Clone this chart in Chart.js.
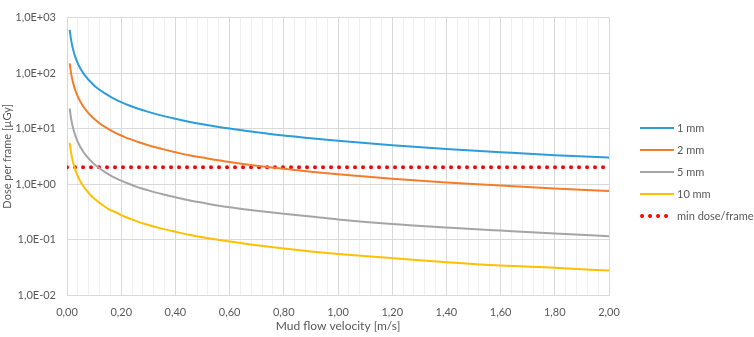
<!DOCTYPE html>
<html>
<head>
<meta charset="utf-8">
<script src="https://cdn.jsdelivr.net/npm/chart.js@4.4.0/dist/chart.umd.min.js"></script>
<style>
  body { margin: 0; background: #fff; }
  #wrap { width: 754px; height: 337px; position: relative; }
</style>
</head>
<body>
<div id="wrap"><canvas id="myChart" width="754" height="337"></canvas></div>
<script>
// values
var velocity = [0.01, 0.015, 0.02, 0.025, 0.03, 0.035, 0.04, 0.045, 0.05, 0.06, 0.07, 0.08, 0.09, 0.10, 0.12, 0.14, 0.16, 0.18, 0.20, 0.23, 0.26, 0.30, 0.35, 0.40, 0.45, 0.50, 0.60, 0.70, 0.80, 0.90, 1.00, 1.20, 1.40, 1.60, 1.80, 2.00];
var dose1mm = [600, 400, 300, 240, 200, 171, 150, 133, 120, 100, 86, 75, 67, 60, 50, 43, 37.5, 33.3, 30, 26, 23, 20, 17.1, 15, 13.3, 12, 10, 8.6, 7.5, 6.7, 6.0, 5.0, 4.3, 3.75, 3.3, 3.0];
var dose2mm = [150, 100, 75, 60, 50, 43, 37.5, 33.3, 30, 25, 21.4, 18.8, 16.7, 15, 12.5, 10.7, 9.4, 8.3, 7.5, 6.5, 5.8, 5, 4.3, 3.75, 3.3, 3, 2.5, 2.14, 1.88, 1.67, 1.5, 1.25, 1.07, 0.94, 0.83, 0.75];
var dose5mm = [23, 15.3, 11.5, 9.2, 7.7, 6.6, 5.75, 5.1, 4.6, 3.83, 3.29, 2.88, 2.56, 2.3, 1.92, 1.64, 1.44, 1.28, 1.15, 1.0, 0.88, 0.77, 0.66, 0.58, 0.51, 0.46, 0.38, 0.33, 0.29, 0.26, 0.23, 0.19, 0.165, 0.145, 0.128, 0.115];
var dose10mm = [5.5, 3.67, 2.75, 2.2, 1.83, 1.57, 1.38, 1.22, 1.1, 0.92, 0.79, 0.69, 0.61, 0.55, 0.46, 0.39, 0.34, 0.31, 0.275, 0.24, 0.21, 0.183, 0.157, 0.138, 0.122, 0.11, 0.092, 0.079, 0.069, 0.061, 0.055, 0.046, 0.039, 0.034, 0.031, 0.0275];
var minDoseX = [0, 2.0];
var minDose = [2.0, 2.0];
var yTicks = [0.01, 0.1, 1, 10, 100, 1000];
var seriesNames = ["1 mm", "2 mm", "5 mm", "10 mm", "min dose/frame"];

function pts(xs, ys) {
  var out = [];
  for (var i = 0; i < xs.length; i++) out.push({ x: xs[i], y: ys[i] });
  return out;
}

function curve(label, d, color) {
  return {
    label: label,
    data: pts(velocity, d),
    borderColor: color,
    backgroundColor: color,
    borderWidth: 2,
    pointRadius: 0,
    cubicInterpolationMode: 'monotone',
    fill: false
  };
}

var legendPlugin = {
  id: 'sideLegend',
  afterDraw: function (chart) {
    var ctx = chart.ctx;
    var rows = [128, 150, 172, 194, 216];
    chart.data.datasets.forEach(function (ds, i) {
      var y = rows[i];
      ctx.save();
      ctx.strokeStyle = ds.borderColor;
      ctx.lineWidth = ds.borderWidth;
      ctx.lineCap = ds.borderCapStyle || 'butt';
      ctx.setLineDash(ds.borderDash || []);
      ctx.beginPath();
      if (ds.borderDash) {
        ctx.moveTo(642, y);
        ctx.lineTo(674, y);
      } else {
        ctx.moveTo(640, y);
        ctx.lineTo(674, y);
      }
      ctx.stroke();
      ctx.setLineDash([]);
      ctx.fillStyle = '#595959';
      ctx.font = '11px Lato, "Open Sans", sans-serif';
      ctx.textBaseline = 'middle';
      ctx.fillText(ds.label, 677, y);
      ctx.restore();
    });
  }
};

var ctx = document.getElementById('myChart').getContext('2d');

var chartData = {
  datasets: [
    curve(seriesNames[0], dose1mm, '#2D9CDB'),
    curve(seriesNames[1], dose2mm, '#F47D2C'),
    curve(seriesNames[2], dose5mm, '#A5A5A5'),
    curve(seriesNames[3], dose10mm, '#FFC000'),
    {
      label: seriesNames[4],
      data: pts(minDoseX, minDose),
      borderColor: '#FF0000',
      backgroundColor: '#FF0000',
      borderWidth: 4,
      borderDash: [0, 8],
      borderCapStyle: 'round',
      pointRadius: 0,
      fill: false
    }
  ]
};

var chartOptions = {
  responsive: false,
  animation: false,
  layout: { padding: { left: 0, right: 145, top: 5, bottom: 0 } },
  plugins: {
    legend: { display: false },
    tooltip: { enabled: false }
  },
  scales: {
    x: {
      type: 'linear',
      min: 0,
      max: 2,
      afterFit: function (s) { s.height = 42; },
      ticks: {
        stepSize: 0.04,
        autoSkip: false,
        maxRotation: 0,
        padding: 11,
        color: '#595959',
        font: { family: 'Lato, "Open Sans", sans-serif', size: 11 },
        callback: function (v) {
          if (Math.round(v * 100) % 20 !== 0) return '';
          return v.toFixed(2).replace('.', ',');
        }
      },
      grid: {
        drawTicks: false,
        color: function (c) {
          var v = c.tick ? c.tick.value : 0;
          return Math.round(v * 100) % 20 === 0 ? '#D9D9D9' : '#EFEFEF';
        },
        lineWidth: 1
      },
      border: { color: '#D9D9D9' },
      title: {
        display: true,
        text: 'Mud flow velocity [m/s]',
        color: '#595959',
        font: { family: 'Lato, "Open Sans", sans-serif', size: 12 },
        padding: 4
      }
    },
    y: {
      type: 'logarithmic',
      min: 0.01,
      max: 1000,
      afterFit: function (s) { s.width = 67; },
      afterBuildTicks: function (s) {
        s.ticks = yTicks.map(function (v) { return { value: v }; });
      },
      ticks: {
        padding: 11,
        color: '#595959',
        font: { family: 'Lato, "Open Sans", sans-serif', size: 11 },
        callback: function (v) {
          var e = Math.round(Math.log10(v));
          var s = (e < 0 ? '-' : '+') + (Math.abs(e) < 10 ? '0' : '') + Math.abs(e);
          return '1,0E' + s;
        }
      },
      grid: { drawTicks: false, color: '#D9D9D9' },
      border: { color: '#D9D9D9' },
      title: {
        display: true,
        text: 'Dose per frame [µGy]',
        color: '#595959',
        font: { family: 'Lato, "Open Sans", sans-serif', size: 11 },
        padding: 1
      }
    }
  }
};

var myChart = new Chart(ctx, {
  type: 'line',
  data: chartData,
  options: chartOptions,
  plugins: [legendPlugin]
});
</script>
</body>
</html>
